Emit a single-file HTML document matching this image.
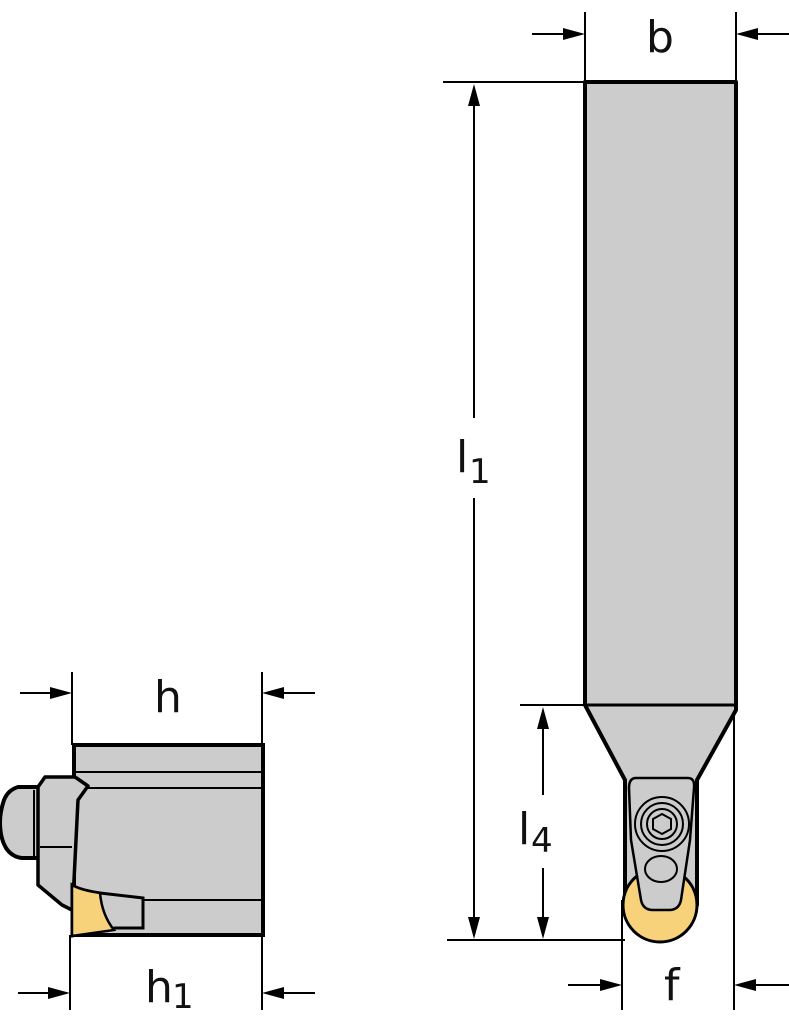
<!DOCTYPE html>
<html><head><meta charset="utf-8"><style>
html,body{margin:0;padding:0;background:#fff;}
svg{display:block;}
text{font-family:"DejaVu Sans","Liberation Sans",sans-serif;fill:#111;}
</style></head><body>
<svg width="789" height="1024" viewBox="0 0 789 1024" xmlns="http://www.w3.org/2000/svg">
<g stroke="#000" stroke-width="2" fill="none">
<line x1="585" y1="12" x2="585" y2="82"/><line x1="736" y1="12" x2="736" y2="82"/>
<line x1="532" y1="34" x2="575" y2="34"/>
<line x1="789" y1="34" x2="746" y2="34"/>
<line x1="443" y1="82" x2="585" y2="82"/>
<line x1="447" y1="940" x2="625" y2="940"/>
<line x1="474" y1="418" x2="474" y2="95"/>
<line x1="474" y1="498" x2="474" y2="928"/>
<line x1="520" y1="705" x2="585" y2="705"/>
<line x1="543" y1="795" x2="543" y2="718"/>
<line x1="543" y1="868" x2="543" y2="928"/>
<line x1="622" y1="900" x2="622" y2="1010"/><line x1="734" y1="715" x2="734" y2="1010"/>
<line x1="568" y1="985" x2="612" y2="985"/>
<line x1="789" y1="985" x2="744" y2="985"/>
<line x1="72" y1="672" x2="72" y2="745"/><line x1="262" y1="672" x2="262" y2="745"/>
<line x1="20" y1="693" x2="62" y2="693"/>
<line x1="315" y1="693" x2="272" y2="693"/>
<line x1="70" y1="935" x2="70" y2="1010"/><line x1="262" y1="935" x2="262" y2="1010"/>
<line x1="18" y1="993" x2="60" y2="993"/>
<line x1="315" y1="993" x2="272" y2="993"/>
</g>
<g fill="#000">
<polygon points="585,34 563,28 563,40"/><polygon points="736,34 758,28 758,40"/>
<polygon points="474,84 468,106 480,106"/><polygon points="474,939 468,917 480,917"/>
<polygon points="543,707 537,729 549,729"/><polygon points="543,939 537,917 549,917"/>
<polygon points="622,985 600,979 600,991"/><polygon points="734,985 756,979 756,991"/>
<polygon points="72,693 50,687 50,699"/><polygon points="262,693 284,687 284,699"/>
<polygon points="70,993 48,987 48,999"/><polygon points="262,993 284,987 284,999"/>
</g>
<!-- right tool -->
<path d="M585,82 H736 V710 L697,780 V905 H625 V780 L585,705 Z" fill="#cccccc" stroke="#000" stroke-width="4" stroke-linejoin="round"/>
<line x1="585" y1="705" x2="736" y2="705" stroke="#000" stroke-width="3"/>
<circle cx="660" cy="905" r="37" fill="#f8d27a" stroke="#000" stroke-width="3"/>
<path d="M636,778 H688 Q695,778 694,788 L690,840 L681,900 Q679,910 669,910 H653 Q643,910 641,900 L631,840 L629,788 Q629,778 636,778 Z" fill="#cccccc" stroke="#000" stroke-width="2.5"/>
<g fill="none" stroke="#000" stroke-width="2">
<circle cx="662" cy="824" r="27"/><circle cx="662" cy="824" r="21"/><circle cx="662" cy="824" r="15"/>
<polygon points="662,814 671,819 671,829 662,834 653,829 653,819"/>
<ellipse cx="661" cy="869" rx="16" ry="13"/>
</g>
<!-- left tool -->
<rect x="74" y="745" width="189" height="190" fill="#cccccc" stroke="#000" stroke-width="4"/>
<line x1="74" y1="772" x2="263" y2="772" stroke="#000" stroke-width="2"/>
<line x1="80" y1="788" x2="263" y2="788" stroke="#000" stroke-width="2"/>
<line x1="143" y1="900" x2="263" y2="900" stroke="#000" stroke-width="2"/>
<path d="M40,787 H18 Q8,790 4,800 Q0,812 0,822 Q0,838 6,848 Q12,857 22,858 H40 Z" fill="#cccccc" stroke="#000" stroke-width="4"/>
<line x1="34" y1="790" x2="34" y2="856" stroke="#000" stroke-width="2"/>
<path d="M45,777 H75 L88,786 L78,800 L74,880 L72,910 L62,905 L38,885 V850 L38,787 Z" fill="#cccccc" stroke="#000" stroke-width="3.5" stroke-linejoin="round"/>
<line x1="40" y1="847" x2="72" y2="847" stroke="#000" stroke-width="2"/>
<path d="M72,885 Q80,890 100,893 L143,898 V928 L115,928 L72,936 Z" fill="#cccccc" stroke="#000" stroke-width="3"/>
<path d="M72,885 Q80,890 100,893 Q102,915 114,930 L72,936 Z" fill="#f8d27a" stroke="#000" stroke-width="2.5"/>
<!-- labels -->
<text x="646" y="52" font-size="44">b</text>
<text x="154" y="712" font-size="44">h</text>
<text x="145" y="1002" font-size="44">h</text><text x="172" y="1008" font-size="34">1</text>
<text x="456" y="472" font-size="44">l</text><text x="469" y="483" font-size="34">1</text>
<text x="518" y="844" font-size="44">l</text><text x="531" y="852" font-size="34">4</text>
<text x="664" y="1000" font-size="44">f</text>
</svg>
</body></html>
